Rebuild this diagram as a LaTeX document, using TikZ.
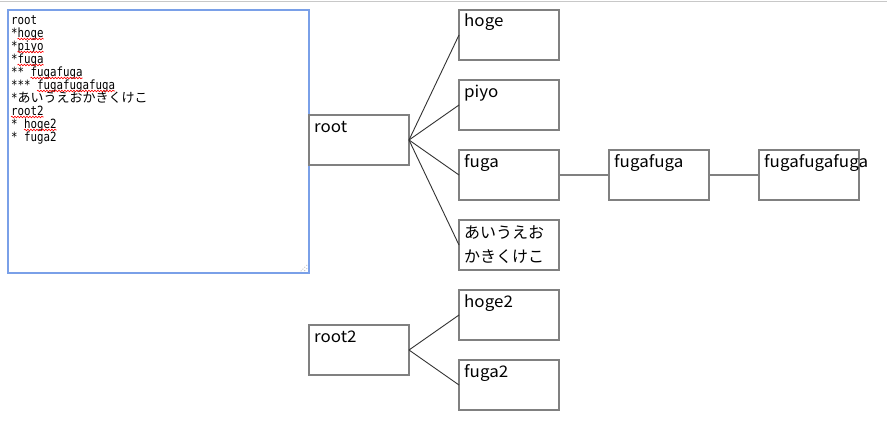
\documentclass[tikz,border=0pt]{standalone}
\usepackage{fontspec}
\setmainfont{Noto Sans CJK JP}
\newfontfamily\jpfont{Noto Sans CJK JP}
\newfontfamily\lblfont[FakeStretch=1.06]{Noto Sans CJK JP}
\newfontfamily\tamono[FakeStretch=0.85]{DejaVu Sans Mono}
\usetikzlibrary{decorations.pathmorphing}
\definecolor{boxgray}{RGB}{128,128,128}
\definecolor{tablue}{RGB}{122,160,232}
\definecolor{connc}{RGB}{51,51,51}
\definecolor{topline}{RGB}{200,200,200}
\newcommand\jptext[1]{{\jpfont\fontsize{13pt}{13pt}\selectfont #1}}
\begin{document}
\begin{tikzpicture}[x=1pt,y=-1pt,
  box/.style={draw=boxgray,line width=1.6pt,rectangle,minimum width=100pt,minimum height=50pt,inner sep=0pt,outer sep=0pt,anchor=north west},
  lbl/.style={anchor=base west,inner sep=0pt,font=\lblfont\fontsize{16pt}{20pt}\selectfont},
  jlbl/.style={anchor=base west,inner sep=0pt,font=\jpfont\fontsize{16pt}{20pt}\selectfont},
  conn/.style={draw=connc,line width=0.9pt},
  hconn/.style={draw=boxgray,line width=1.5pt},
  taline/.style={anchor=base west,inner sep=0pt,font=\tamono\fontsize{12.7pt}{13pt}\selectfont},
  spell/.style={draw=red,line width=0.6pt,decorate,decoration={snake,segment length=3pt,amplitude=0.8pt}}]
\useasboundingbox (0,0) rectangle (887,431);
\fill[white] (0,0) rectangle (887,431);
\draw[topline,line width=1.2pt] (0,1.5) -- (887,1.5);
% textarea
\node[draw=tablue,line width=1.3pt,rectangle,minimum width=301pt,minimum height=263pt,inner sep=0pt,outer sep=0pt,anchor=north west] (ta) at (8,10) {};
\draw[gray,line width=0.7pt,dotted] (307,265) -- (300,272) (307,268.5) -- (303.5,272);
\node[taline] (t1) at (11,24) {root};
\node[taline] (t2) at (11,37) {*hoge};
\node[taline] (t3) at (11,50) {*piyo};
\node[taline] (t4) at (11,63) {*fuga};
\node[taline] (t5) at (11,76) {** fugafuga};
\node[taline] (t6) at (11,89) {*** fugafugafuga};
\node[taline] (t7) at (11,102) {*\jptext{あいうえおかきくけこ}};
\node[taline] (t8) at (11,115) {root2};
\node[taline] (t9) at (11,128) {* hoge2};
\node[taline] (t10) at (11,141) {* fuga2};
\draw[spell] (17.5,39) -- (43.5,39);
\draw[spell] (17.5,52) -- (43.5,52);
\draw[spell] (17.5,65) -- (43.5,65);
\draw[spell] (30.5,78) -- (82.5,78);
\draw[spell] (37,91) -- (115,91);
\draw[spell] (11,117) -- (43.5,117);
\draw[spell] (24,130) -- (56.5,130);
% boxes
\node[box] (root) at (309,115) {};
\node[box] (hoge) at (459,10) {};
\node[box] (piyo) at (459,80) {};
\node[box] (fuga) at (459,150) {};
\node[box] (kana) at (459,220) {};
\node[box] (ff) at (609,150) {};
\node[box] (fff) at (759,150) {};
\node[box] (root2) at (309,325) {};
\node[box] (hoge2) at (459,290) {};
\node[box] (fuga2) at (459,360) {};
% labels
\node[lbl] (rootT) at ([shift={(5,17)}]root.north west) {root};
\node[lbl] (hogeT) at ([shift={(5,17)}]hoge.north west) {hoge};
\node[lbl] (piyoT) at ([shift={(5,17)}]piyo.north west) {piyo};
\node[lbl] (fugaT) at ([shift={(5,17)}]fuga.north west) {fuga};
\node[jlbl] (kanaT1) at ([shift={(5,18)}]kana.north west) {あいうえお};
\node[jlbl] (kanaT2) at ([shift={(5,42)}]kana.north west) {かきくけこ};
\node[lbl] (ffT) at ([shift={(5,17)}]ff.north west) {fugafuga};
\node[lbl] (fffT) at ([shift={(5,17)}]fff.north west) {fugafugafuga};
\node[lbl] (root2T) at ([shift={(5,17)}]root2.north west) {root2};
\node[lbl] (hoge2T) at ([shift={(5,17)}]hoge2.north west) {hoge2};
\node[lbl] (fuga2T) at ([shift={(5,17)}]fuga2.north west) {fuga2};
% connectors
\draw[conn] (root.east) -- (hoge.west);
\draw[conn] (root.east) -- (piyo.west);
\draw[conn] (root.east) -- (fuga.west);
\draw[conn] (root.east) -- (kana.west);
\draw[hconn] (fuga.east) -- (ff.west);
\draw[hconn] (ff.east) -- (fff.west);
\draw[conn] (root2.east) -- (hoge2.west);
\draw[conn] (root2.east) -- (fuga2.west);
\end{tikzpicture}
\end{document}
